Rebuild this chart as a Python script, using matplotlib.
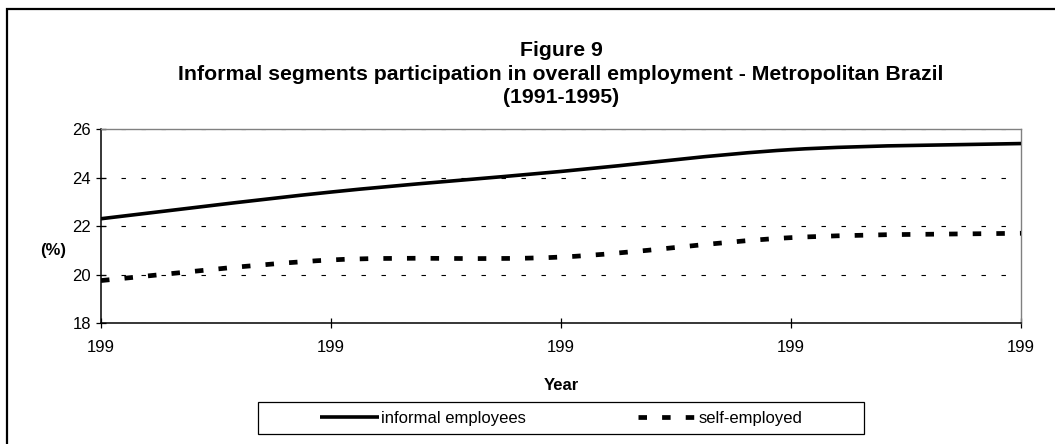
import matplotlib
matplotlib.use("Agg")
import matplotlib.pyplot as plt
from matplotlib.path import Path
from matplotlib.patches import PathPatch, Rectangle
from matplotlib.lines import Line2D

plt.rcParams['font.family'] = ['Liberation Sans', 'DejaVu Sans']

years = [1991, 1992, 1993, 1994, 1995]
tick_labels = ['199', '199', '199', '199', '199']
informal = [22.3, 23.4, 24.25, 25.15, 25.4]
self_employed = [19.75, 20.6, 20.72, 21.52, 21.7]
y_ticks = [18, 20, 22, 24, 26]


def smooth_path(x, y):
    # bezier through the points, like the "smoothed line" option of the original
    n = len(x)
    verts = [(x[0], y[0])]
    codes = [Path.MOVETO]
    for i in range(n - 1):
        a = max(i - 1, 0)
        b = min(i + 2, n - 1)
        c1 = (x[i] + (x[i + 1] - x[a]) / 6, y[i] + (y[i + 1] - y[a]) / 6)
        c2 = (x[i + 1] - (x[b] - x[i]) / 6, y[i + 1] - (y[b] - y[i]) / 6)
        verts += [c1, c2, (x[i + 1], y[i + 1])]
        codes += [Path.CURVE4] * 3
    return Path(verts, codes)


fig = plt.figure(figsize=(10.55, 4.44), dpi=100)
ax = fig.add_axes([101 / 1055, 1 - 323 / 444, 920 / 1055, 194 / 444])

solid_lw, solid_ls = 2.6, '-'
dash_lw, dash_ls = 3.4, (0, (1.8, 3.2))

ax.add_patch(PathPatch(smooth_path(years, informal), fill=False, zorder=3,
                       color='black', lw=solid_lw, linestyle=solid_ls, capstyle='butt'))
ax.add_patch(PathPatch(smooth_path(years, self_employed), fill=False, zorder=3,
                       color='black', lw=dash_lw, linestyle=dash_ls, capstyle='butt'))

ax.set_xlim(years[0], years[-1])
ax.set_ylim(18, 26)
ax.set_xticks(years)
ax.set_xticklabels(tick_labels)
ax.set_yticks(y_ticks)

ax.grid(axis='y', color='black', lw=0.8, linestyle=(0, (4, 14)))
ax.set_axisbelow(True)

for s in ['top', 'right']:
    ax.spines[s].set_color('#808080')
    ax.spines[s].set_linewidth(1.0)
for s in ['left', 'bottom']:
    ax.spines[s].set_color('black')
    ax.spines[s].set_linewidth(1.1)

ax.tick_params(axis='both', direction='inout', length=6.5, width=0.9, labelsize=12)
ax.tick_params(axis='x', pad=9.3)
ax.tick_params(axis='y', pad=4)

cx = 561 / 1055
fig.text(cx, 1 - 56 / 444, 'Figure 9', ha='center', va='baseline', fontsize=15.3, fontweight='bold')
fig.text(cx, 1 - 80 / 444, 'Informal segments participation in overall employment - Metropolitan Brazil',
         ha='center', va='baseline', fontsize=15.3, fontweight='bold')
fig.text(cx, 1 - 103 / 444, '(1991-1995)', ha='center', va='baseline', fontsize=15.3, fontweight='bold')

fig.text(53 / 1055, 1 - 250 / 444, '(%)', ha='center', va='center', fontsize=12, fontweight='bold')
fig.text(cx, 1 - 385 / 444, 'Year', ha='center', va='center', fontsize=12, fontweight='bold')

# outer chart border (only top and left edges are inside the picture)
fig.patches.append(Rectangle((7 / 1055, -0.2), 1.2, 1 - 9 / 444 + 0.2, transform=fig.transFigure,
                             fill=False, edgecolor='black', lw=1.6))

# legend box
fig.patches.append(Rectangle((258 / 1055, 1 - 434 / 444), 606 / 1055, 32 / 444, transform=fig.transFigure,
                             fill=False, edgecolor='black', lw=0.9))
handles = [Line2D([], [], color='black', lw=solid_lw, linestyle=solid_ls, solid_capstyle='butt'),
           Line2D([], [], color='black', lw=dash_lw, linestyle=dash_ls, dash_capstyle='butt')]
fig.legend(handles, ['informal employees', 'self-employed'], loc='center left',
           bbox_to_anchor=(320 / 1055, 1 - 418 / 444), ncol=2, frameon=False, fontsize=12,
           handlelength=3.55, handletextpad=0.1, columnspacing=6.75, borderpad=0, borderaxespad=0)

fig.savefig('out.png', dpi=100)
